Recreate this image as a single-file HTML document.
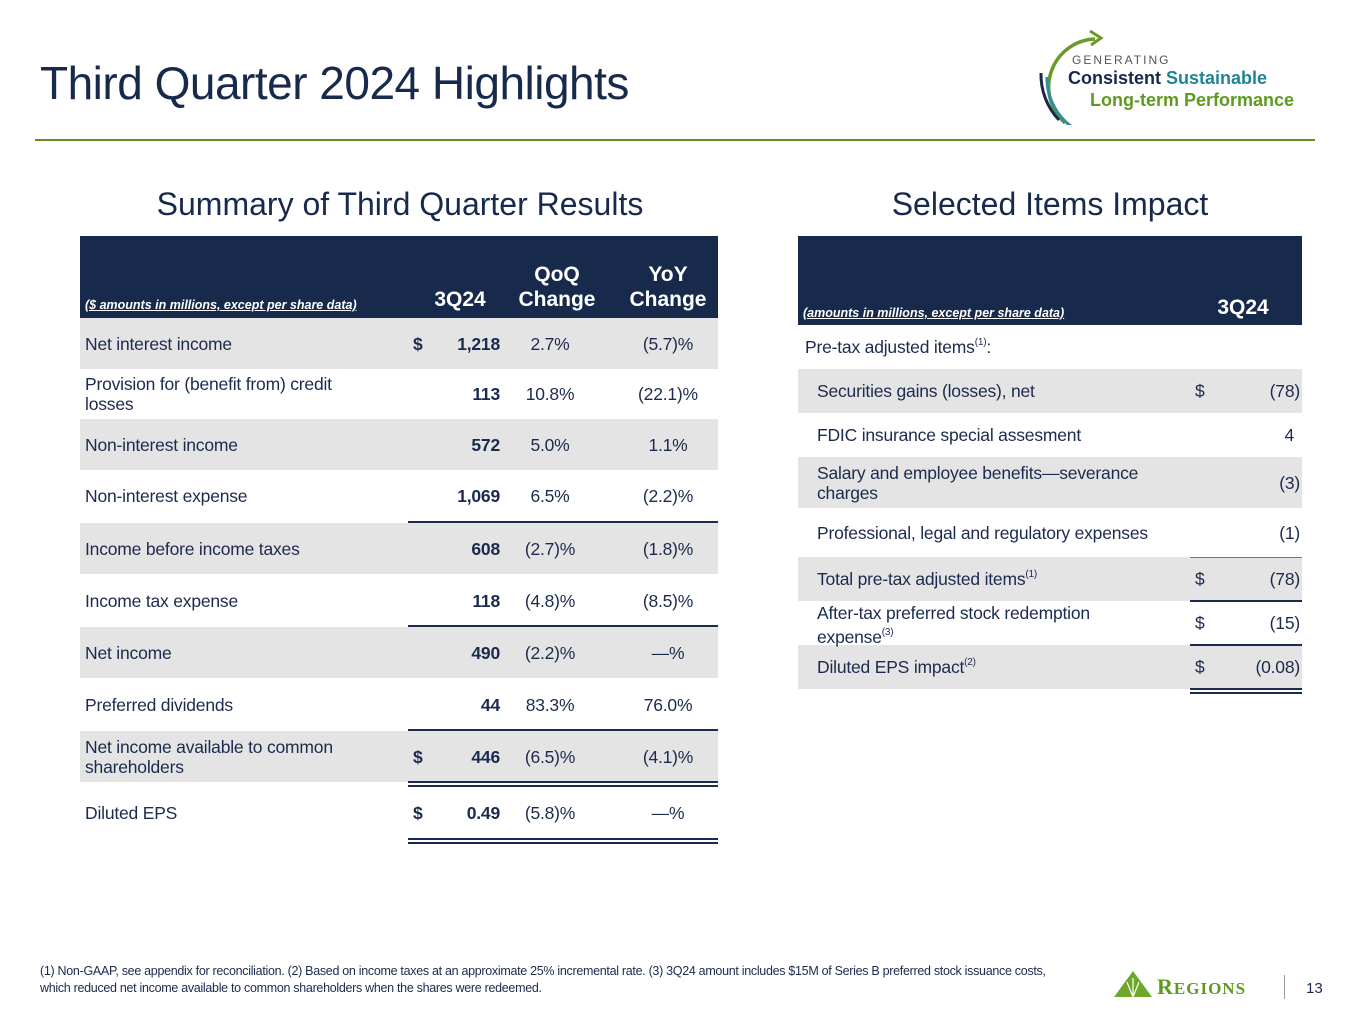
<!DOCTYPE html>
<html><head><meta charset="utf-8">
<style>
*{margin:0;padding:0;box-sizing:border-box}
body{width:1365px;height:1024px;background:#fff;position:relative;overflow:hidden;font-family:"Liberation Sans",sans-serif;color:#1b2b4d}
.a{position:absolute}
.t{font-size:17.5px;white-space:nowrap;letter-spacing:-0.2px}
.grey{background:#e4e4e4}
.hd{background:#172a4c;color:#fff}
.ln{position:absolute;height:2px;background:#1b2b4d}
.b{font-weight:bold}
.r{text-align:right}
.c{text-align:center}
sup{font-size:10px;vertical-align:8px}
</style></head><body>
<div class="a" style="left:40px;top:56px;font-size:46px;color:#172a4c;letter-spacing:-0.5px">Third Quarter 2024 Highlights</div>
<div class="a" style="left:35px;top:139px;width:1280px;height:2px;background:#6a8a22"></div>

<div class="a" style="left:1035px;top:25px;width:290px;height:100px">
<svg width="290" height="100" style="position:absolute;left:0;top:0">
<path d="M60 14 A48 48 0 0 0 30 98" fill="none" stroke="#6a9a26" stroke-width="3.5"/>
<path d="M55 6 L66 13 L56 20" fill="none" stroke="#6a9a26" stroke-width="3"/>
<path d="M12 52 A60 60 0 0 0 40 104" fill="none" stroke="#2f8fa0" stroke-width="3"/>
<path d="M6 48 A66 66 0 0 0 24 95" fill="none" stroke="#172a4c" stroke-width="3"/>
</svg>
<div class="a" style="left:37px;top:28px;font-size:12px;letter-spacing:2px;color:#555">GENERATING</div>
<div class="a" style="left:33px;top:43px;font-size:18px;font-weight:bold;color:#172a4c;white-space:nowrap">Consistent <span style="color:#1f8494">Sustainable</span></div>
<div class="a" style="left:55px;top:65px;font-size:18px;font-weight:bold;color:#5e9a1f;white-space:nowrap">Long-term Performance</div>
</div>

<div class="a c" style="left:80px;top:186px;width:640px;font-size:32px;color:#172a4c">Summary of Third Quarter Results</div>
<div class="a c" style="left:798px;top:186px;width:504px;font-size:32px;color:#172a4c">Selected Items Impact</div>

<!-- LEFT TABLE -->
<div class="a hd" style="left:80px;top:236px;width:638px;height:82px">
<div class="a b" style="left:5px;top:62px;font-size:12.5px;font-style:italic;text-decoration:underline;white-space:nowrap">($ amounts in millions, except per share data)</div>
<div class="a b c" style="left:340px;top:52px;width:80px;font-size:21px">3Q24</div>
<div class="a b c" style="left:432px;top:26px;width:90px;font-size:21px;line-height:25px">QoQ<br>Change</div>
<div class="a b c" style="left:538px;top:26px;width:100px;font-size:21px;line-height:25px">YoY<br>Change</div>
</div>

<div class="a grey" style="left:80px;top:318px;width:638px;height:51px"></div>
<div class="a grey" style="left:80px;top:419px;width:638px;height:51px"></div>
<div class="a grey" style="left:80px;top:523px;width:638px;height:51px"></div>
<div class="a grey" style="left:80px;top:627px;width:638px;height:51px"></div>
<div class="a grey" style="left:80px;top:731px;width:638px;height:51px"></div>

<div class="ln" style="left:408px;top:521px;width:310px"></div>
<div class="ln" style="left:408px;top:625px;width:310px"></div>
<div class="ln" style="left:408px;top:729px;width:310px"></div>
<div class="ln" style="left:408px;top:781px;width:310px"></div>
<div class="ln" style="left:408px;top:785px;width:310px"></div>
<div class="ln" style="left:408px;top:838px;width:310px"></div>
<div class="ln" style="left:408px;top:842px;width:310px"></div>

<div id="left"></div>

<!-- RIGHT TABLE -->
<div class="a hd" style="left:798px;top:236px;width:504px;height:89px">
<div class="a b" style="left:5px;top:70px;font-size:12.5px;font-style:italic;text-decoration:underline;white-space:nowrap">(amounts in millions, except per share data)</div>
<div class="a b c" style="left:400px;top:60px;width:90px;font-size:21px">3Q24</div>
</div>
<div class="a grey" style="left:798px;top:369px;width:504px;height:44px"></div>
<div class="a grey" style="left:798px;top:457px;width:504px;height:51px"></div>
<div class="a grey" style="left:798px;top:557px;width:504px;height:44px"></div>
<div class="a grey" style="left:798px;top:645px;width:504px;height:44px"></div>
<div class="ln" style="left:1190px;top:557px;width:112px;height:1px;background:#777"></div>
<div class="ln" style="left:1190px;top:600px;width:112px"></div>
<div class="ln" style="left:1190px;top:644px;width:112px"></div>
<div class="ln" style="left:1190px;top:688px;width:112px"></div>
<div class="ln" style="left:1190px;top:692px;width:112px"></div>

<div class="a t" style="left:805px;top:337px">Pre-tax adjusted items<sup>(1)</sup>:</div>
<div class="a t" style="left:817px;top:381px">Securities gains (losses), net</div>
<div class="a t" style="left:817px;top:425px">FDIC insurance special assesment</div>
<div class="a t" style="left:817px;top:463px;line-height:20px">Salary and employee benefits—severance<br>charges</div>
<div class="a t" style="left:817px;top:523px">Professional, legal and regulatory expenses</div>
<div class="a t" style="left:817px;top:569px">Total pre-tax adjusted items<sup>(1)</sup></div>
<div class="a t" style="left:817px;top:603px;line-height:20px">After-tax preferred stock redemption<br>expense<sup>(3)</sup></div>
<div class="a t" style="left:817px;top:657px">Diluted EPS impact<sup>(2)</sup></div>
<div class="a t" style="left:1195px;top:381px">$</div>
<div class="a t r" style="left:1220px;width:80px;top:381px">(78)</div>
<div class="a t r" style="left:1220px;width:74px;top:425px">4</div>
<div class="a t r" style="left:1220px;width:80px;top:473px">(3)</div>
<div class="a t r" style="left:1220px;width:80px;top:523px">(1)</div>
<div class="a t" style="left:1195px;top:569px">$</div>
<div class="a t r" style="left:1220px;width:80px;top:569px">(78)</div>
<div class="a t" style="left:1195px;top:613px">$</div>
<div class="a t r" style="left:1220px;width:80px;top:613px">(15)</div>
<div class="a t" style="left:1195px;top:657px">$</div>
<div class="a t r" style="left:1220px;width:80px;top:657px">(0.08)</div>

<div class="a" style="left:40px;top:963px;width:1020px;font-size:12.5px;line-height:17px;letter-spacing:-0.3px">(1) Non-GAAP, see appendix for reconciliation. (2) Based on income taxes at an approximate 25% incremental rate. (3) 3Q24 amount includes $15M of Series B preferred stock issuance costs, which reduced net income available to common shareholders when the shares were redeemed.</div>

<div class="a" style="left:1113px;top:970px;width:160px;height:30px">
<svg width="40" height="28" style="position:absolute;left:0;top:0"><polygon points="20,1 39,27 1,27" fill="#6ea82a"/><path d="M20 27 L14 12 M20 27 L20 8 M20 27 L26 12" stroke="#fff" stroke-width="1.2"/></svg>
<div class="a" style="left:44px;top:4px;font-family:'Liberation Serif',serif;font-size:22px;font-weight:bold;color:#5e9a1f;letter-spacing:1px">R<span style="font-size:17px">EGIONS</span></div>
</div>
<div class="a" style="left:1284px;top:975px;width:1px;height:24px;background:#999"></div>
<div class="a" style="left:1306px;top:980px;font-size:15px">13</div>

<script>
const labels=["Net interest income","Provision for (benefit from) credit<br>losses","Non-interest income","Non-interest expense","Income before income taxes","Income tax expense","Net income","Preferred dividends","Net income available to common<br>shareholders","Diluted EPS"];
const dollars=[true,false,false,false,false,false,false,false,true,true];
const values=["1,218","113","572","1,069","608","118","490","44","446","0.49"];
const qoq=["2.7%","10.8%","5.0%","6.5%","(2.7)%","(4.8)%","(2.2)%","83.3%","(6.5)%","(5.8)%"];
const yoy=["(5.7)%","(22.1)%","1.1%","(2.2)%","(1.8)%","(8.5)%","—%","76.0%","(4.1)%","—%"];
const rowTops=[318,369,419,470,523,574,627,678,731,786];
const rowH=[51,50,51,52,51,53,51,53,51,54];
const host=document.getElementById('left');
labels.forEach((l,i)=>{
  const two=l.indexOf('<br>')>=0;
  const cy=rowTops[i]+rowH[i]/2;
  const lab=document.createElement('div');
  
  
  lab.className='a t';
  lab.style.left='85px';lab.style.lineHeight='20px';
  lab.style.top=(cy-(two?20:10))+'px';
  lab.innerHTML=l;host.appendChild(lab);
  if(dollars[i]){
    const d=document.createElement('div');
    
    
    d.className='a t b';d.style.left='413px';d.style.top=(cy-10)+'px';d.textContent='$';host.appendChild(d);
  }
  const v=document.createElement('div');
  
  
  v.className='a t b r';v.style.left='420px';v.style.width='80px';v.style.top=(cy-10)+'px';v.textContent=values[i];host.appendChild(v);
  const q=document.createElement('div');
  
  
  q.className='a t c';q.style.left='505px';q.style.width='90px';q.style.top=(cy-10)+'px';q.textContent=qoq[i];host.appendChild(q);
  const y=document.createElement('div');
  
  
  y.className='a t c';y.style.left='620px';y.style.width='96px';y.style.top=(cy-10)+'px';y.textContent=yoy[i];host.appendChild(y);
});
</script>
</body></html>
